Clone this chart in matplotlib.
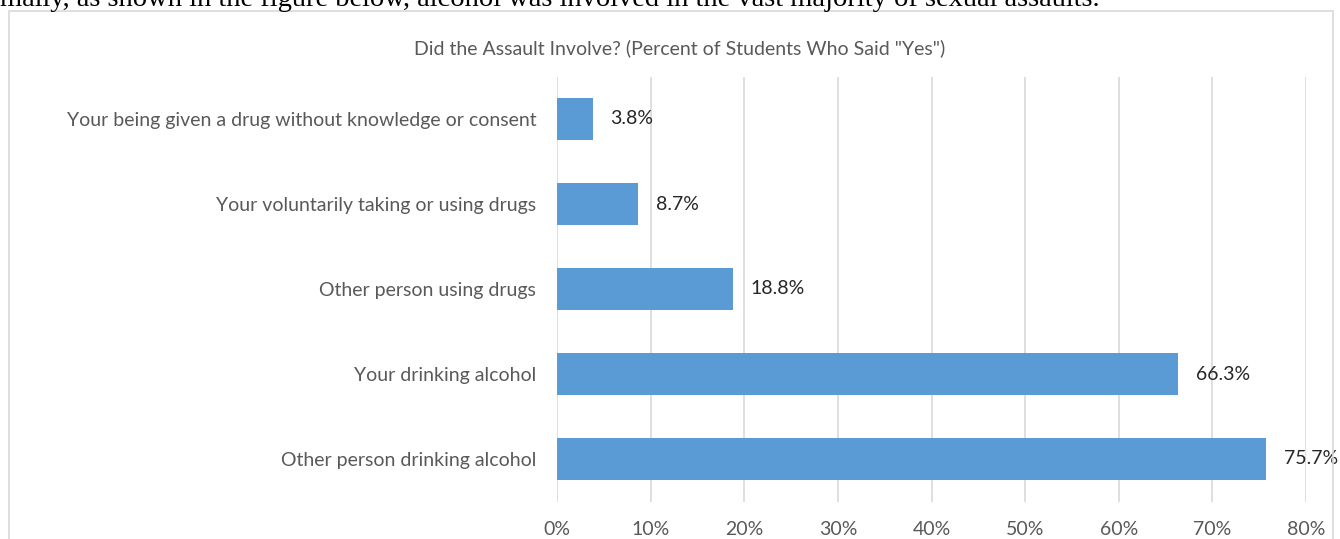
import matplotlib
matplotlib.use("Agg")
import numpy as np
import matplotlib.pyplot as plt
from matplotlib.patches import Rectangle

categories = [
    "Other person drinking alcohol",
    "Your drinking alcohol",
    "Other person using drugs",
    "Your voluntarily taking or using drugs",
    "Your being given a drug without knowledge or consent",
]
values = [75.7, 66.3, 18.8, 8.7, 3.8]
xticks = [0, 10, 20, 30, 40, 50, 60, 70, 80]

title = 'Did the Assault Involve? (Percent of Students Who Said "Yes")'
doc_text = "mally, as shown in the figure below, alcohol was involved in the vast majority of sexual assaults."

bar_color = "#5B9BD5"
grid_color = "#D9D9D9"
text_color = "#595959"

def main():
    plt.rcParams["font.family"] = ["Lato", "DejaVu Sans"]
    fig = plt.figure(figsize=(13.4, 5.39), dpi=100)
    fig.patch.set_facecolor("white")

    # chart border (bottom runs off the picture)
    border = Rectangle((9 / 1340, -0.05), (1333 - 9) / 1340, 1 - 11 / 539 + 0.05,
                       transform=fig.transFigure, fill=False, edgecolor=grid_color,
                       linewidth=1.2, clip_on=False)
    fig.patches.append(border)

    # line of document text above the chart, cut off at the top as in the page scan
    fig.text(0.0, 1 - 6 / 539, doc_text, family=["Liberation Serif", "DejaVu Serif"],
             fontsize=20.5, color="black", ha="left", va="baseline")

    ax = fig.add_axes([557 / 1340, 37.5 / 539, (1306 - 557) / 1340, 425 / 539])
    y = np.arange(len(categories))
    ax.barh(y, values, height=0.5, color=bar_color, zorder=3)
    for yi, v in zip(y, values):
        ax.text(v + 1.9, yi, "%.1f%%" % v, va="center", ha="left",
                fontsize=14, color="#262626")

    ax.set_xlim(0, 80)
    ax.set_ylim(-0.5, len(categories) - 0.5)
    ax.set_xticks(xticks)
    ax.set_xticklabels([str(t) + "%" for t in xticks], fontsize=14, color=text_color)
    ax.set_yticks(y)
    ax.set_yticklabels(categories, fontsize=14, color=text_color)
    ax.tick_params(axis="y", length=0, pad=15)
    ax.tick_params(axis="x", length=0, pad=14)
    ax.grid(axis="x", color=grid_color, linewidth=1.2, zorder=0)
    for s in ax.spines.values():
        s.set_visible(False)

    fig.text(680 / 1340, 1 - 48 / 539, title, fontsize=14, color=text_color,
             ha="center", va="center")

    fig.savefig("out.png", dpi=100)

if __name__ == "__main__":
    main()
